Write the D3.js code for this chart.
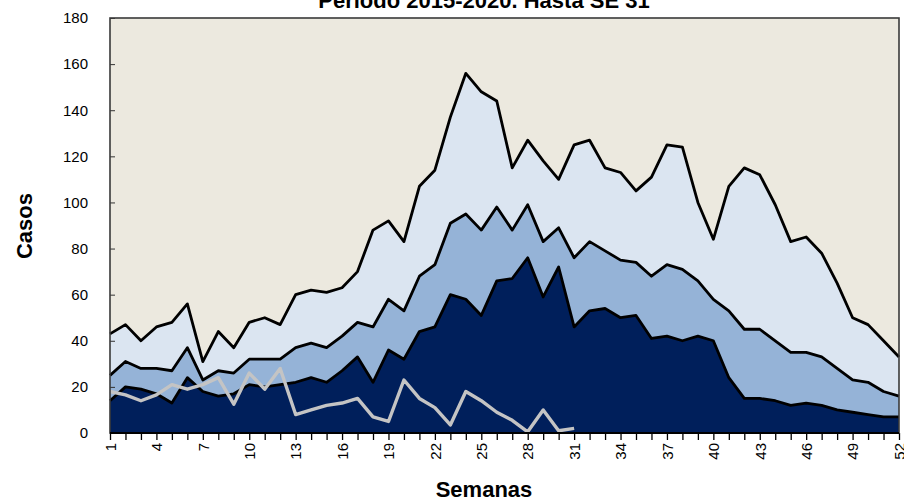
<!DOCTYPE html>
<html lang="es">
<head>
<meta charset="UTF-8">
<title>Canal endémico</title>
<script src="https://d3js.org/d3.v7.min.js"></script>
<style>
  body { margin: 0; background: #fff; }
  svg text { font-family: "Liberation Sans", Arial, sans-serif; fill: #000; }
</style>
</head>
<body>
<svg id="chart" width="904" height="502"></svg>
<script>
// semanas epidemiologicas
const weeks = d3.range(1, 53);

// limite superior de la zona de alerta
const alertTop = [43,47,40,46,48,56,31,44,37,48, 50,47,60,62,61,63,70,88,92,83,
  107,114,137,156,148,144,115,127,118,110, 125,127,115,113,105,111,125,124,100,84,
  107,115,112,99,83,85,78,65,50,47, 40,33];
// limite de la zona de seguridad
const securityTop = [25,31,28,28,27,37,23,27,26,32, 32,32,37,39,37,42,48,46,58,53,
  68,73,91,95,88,98,88,99,83,89, 76,83,79,75,74,68,73,71,66,58,
  53,45,45,40,35,35,33,28,23,22, 18,16];
// limite de la zona de exito
const successTop = [14,20,19,17,13,24,18,16,17,21, 20,21,22,24,22,27,33,22,36,32,
  44,46,60,58,51,66,67,76,59,72, 46,53,54,50,51,41,42,40,42,40,
  24,15,15,14,12,13,12,10,9,8, 7,7];
// casos 2020 hasta SE 31
const cases2020 = [18,16.5,14,16.5,21,19,21,24,12.5,26, 19,28,8,10,12,13,15,7,5,23,
  15,11,3.5,18,14,9,5.5,0.5,10,1,2];

const yTicks = d3.range(0, 181, 20);
const xLabels = weeks.filter(w => (w - 1) % 3 === 0);

const svg = d3.select('#chart');
const pLeft = 110, pRight = 899, pTop = 18, pBottom = 433;

const x = d3.scaleLinear().domain([1, 52]).range([pLeft, pRight]);
const y = d3.scaleLinear().domain([0, 180]).range([pBottom, pTop]);

// fondo: zona epidemica
svg.append('rect')
  .attr('x', pLeft).attr('y', pTop)
  .attr('width', pRight - pLeft).attr('height', pBottom - pTop)
  .attr('fill', '#ECE9DF');

const layers = [
  { values: alertTop, fill: '#DBE5F1' },
  { values: securityTop, fill: '#95B3D7' },
  { values: successTop, fill: '#001F5B' }
];

const area = d3.area()
  .x((d, i) => x(weeks[i]))
  .y0(y(0))
  .y1(d => y(d));
const line = d3.line()
  .x((d, i) => x(weeks[i]))
  .y(d => y(d));

layers.forEach(l => {
  svg.append('path').attr('d', area(l.values)).attr('fill', l.fill);
  svg.append('path').attr('d', line(l.values))
    .attr('fill', 'none').attr('stroke', '#000')
    .attr('stroke-width', 2.8).attr('stroke-linejoin', 'round');
});

svg.append('path').attr('d', line(cases2020))
  .attr('fill', 'none').attr('stroke', '#C4C4C4')
  .attr('stroke-width', 3.4).attr('stroke-linejoin', 'round');

// ejes
const yAxis = d3.axisLeft(y).tickValues(yTicks).tickSize(-5).tickPadding(22);
const gy = svg.append('g').attr('transform', `translate(${pLeft},0)`).call(yAxis);
gy.select('.domain').remove();
gy.selectAll('line').attr('stroke', '#333');
gy.selectAll('text').style('font-size', '15px');

const xAxis = d3.axisBottom(x).tickValues(weeks).tickSize(7)
  .tickFormat(w => xLabels.includes(w) ? w : '');
const gx = svg.append('g').attr('transform', `translate(0,${pBottom})`).call(xAxis);
gx.select('.domain').remove();
gx.selectAll('line').attr('stroke', '#000').attr('stroke-width', 1.3);
gx.selectAll('text')
  .style('font-size', '15px')
  .attr('text-anchor', 'end')
  .attr('transform', 'rotate(-90)')
  .attr('x', -10).attr('y', 0).attr('dy', '0.35em');

// marco del area de trazado
svg.append('rect')
  .attr('x', pLeft).attr('y', pTop)
  .attr('width', pRight - pLeft).attr('height', pBottom - pTop)
  .attr('fill', 'none').attr('stroke', '#3a3a3a').attr('stroke-width', 1.6);
svg.append('line')
  .attr('x1', pLeft).attr('x2', pRight).attr('y1', pBottom).attr('y2', pBottom)
  .attr('stroke', '#000').attr('stroke-width', 2);

// titulos
svg.append('text').attr('x', 484).attr('y', 8)
  .attr('text-anchor', 'middle')
  .style('font-size', '22px').style('font-weight', 'bold')
  .text('Período 2015-2020. Hasta SE 31');

svg.append('text').attr('x', 484).attr('y', 497)
  .attr('text-anchor', 'middle')
  .style('font-size', '22px').style('font-weight', 'bold')
  .text('Semanas');

svg.append('text')
  .attr('transform', 'translate(32,226) rotate(-90)')
  .attr('text-anchor', 'middle')
  .style('font-size', '22px').style('font-weight', 'bold')
  .text('Casos');
</script>
</body>
</html>
